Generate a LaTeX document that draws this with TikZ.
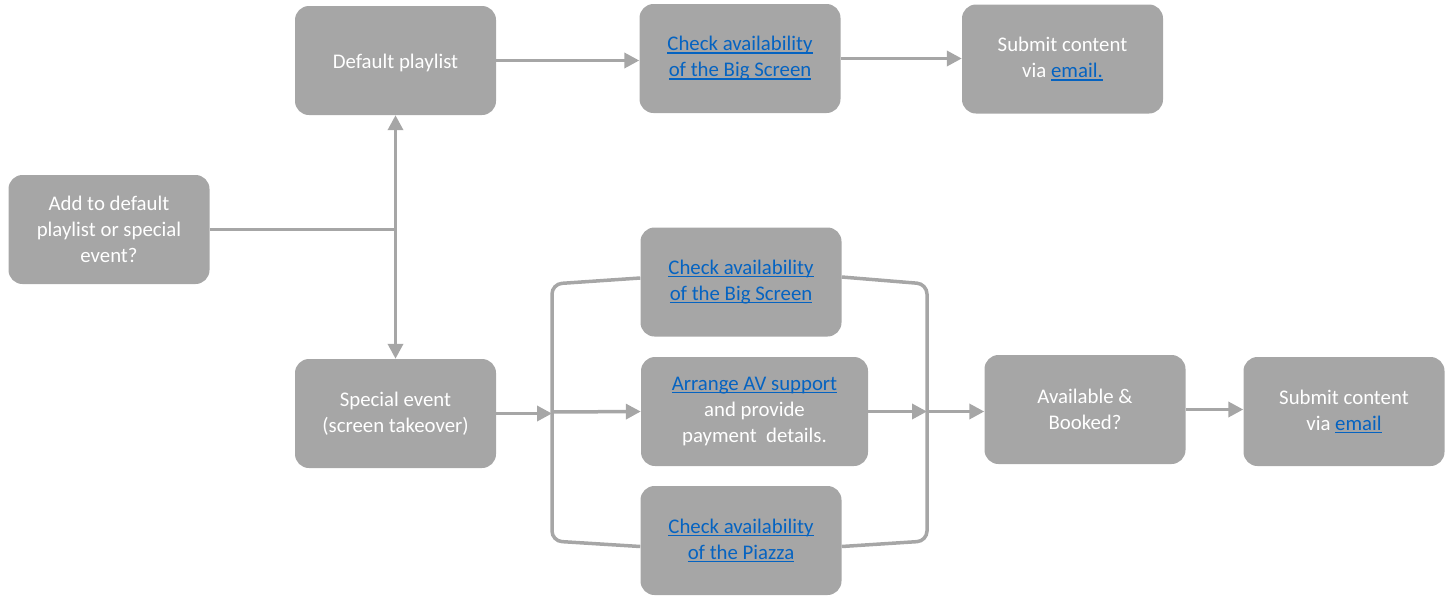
\documentclass[tikz,border=0pt]{standalone}
\usepackage{fontspec}
\setmainfont{Carlito}
\usetikzlibrary{arrows.meta}
\definecolor{boxgray}{HTML}{A6A6A6}
\definecolor{linkblue}{HTML}{0563C1}
\newsavebox\lnkbox
\newcommand{\lnk}[1]{\sbox\lnkbox{\color{linkblue}#1}{\color{linkblue}\rlap{\usebox\lnkbox}\rule[-2.8pt]{\wd\lnkbox}{1.3pt}}}
\begin{document}
\begin{tikzpicture}[x=1pt,y=-1pt,
  box/.style={fill=boxgray, rounded corners=14pt, text=white, align=center,
    font=\fontsize{20.8}{26}\selectfont, inner sep=0pt,
    minimum height=109pt, minimum width=201pt,
    execute at begin node={\rule{0pt}{18.5pt}}},
  conn/.style={draw=boxgray, line width=3.5pt},
  tip/.style={-{Triangle[length=15pt,width=15pt]}},
  both/.style={{Triangle[length=15pt,width=15pt]}-{Triangle[length=15pt,width=15pt]}}]
\useasboundingbox (0,0) rectangle (1450,600);
\node[box] (A) at (109,229.5) {Add to default\\playlist or special\\event?};
\node[box] (B) at (395.5,60.5) {Default playlist};
\node[box] (C) at (740,58.5) {\lnk{Check availability}\\\lnk{of the Big Screen}};
\node[box] (D) at (1062.5,59) {Submit content\\via \lnk{email.}};
\node[box] (E) at (395.5,413.5) {Special event\\(screen takeover)};
\node[box] (F) at (741,282) {\lnk{Check availability}\\\lnk{of the Big Screen}};
\node[box, minimum width=227pt] (G) at (754.5,411.5) {\lnk{Arrange AV support}\\and provide\\payment~ details.};
\node[box] (H) at (741,540.5) {\lnk{Check availability}\\\lnk{of the Piazza}};
\node[box] (I) at (1085,409.5) {Available \&\\Booked?};
\node[box] (J) at (1344,411.5) {Submit content\\via \lnk{email}};
\coordinate (lb) at (552,412);
\coordinate (rb) at (927,411.5);
\draw[conn] (A.east) -- (A.east -| B.south);
\draw[conn,both] (B.south) -- (E.north);
\draw[conn,tip] (B.east) -- (B.east -| C.west);
\draw[conn,tip] (C.east) -- (C.east -| D.west);
\draw[conn,tip] (E.east) -- (E.east -| lb);
\draw[conn,tip] (lb) -- (G.west);
\draw[conn, rounded corners=10pt] ([yshift=4pt]F.west) -- (552,284) -- (552,541) -- ([yshift=-6pt]H.west);
\draw[conn, rounded corners=10pt] ([yshift=5pt]F.east) -- (927,284) -- (927,541) -- ([yshift=-6pt]H.east);
\draw[conn,tip] (G.east) -- (rb);
\draw[conn,tip] (rb) -- (rb -| I.west);
\draw[conn,tip] (I.east) -- (I.east -| J.west);
\end{tikzpicture}
\end{document}
